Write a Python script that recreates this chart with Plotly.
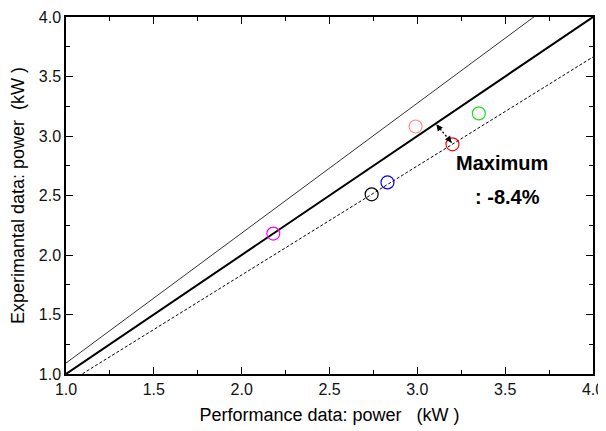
import plotly.graph_objects as go

# Data
perf_x = [2.18, 2.74, 2.83, 2.99, 3.20, 3.35]
exp_y = [2.18, 2.51, 2.61, 3.08, 2.93, 3.19]
point_colors = ["#ff00ff", "#000000", "#0000ff", "#ff8c80", "#ff0000", "#22e022"]

line_x = [0.9, 4.1]
upper_ratio = 1.092
lower_ratio = 0.916

x_ticks = [1.0, 1.5, 2.0, 2.5, 3.0, 3.5, 4.0]
y_ticks = [1.0, 1.5, 2.0, 2.5, 3.0, 3.5, 4.0]

# arrow (max deviation) endpoints: from red point to ideal line
arrow_from = (3.195, 2.944)
arrow_to = (3.108, 3.098)

FONT = "Arial, Liberation Sans, sans-serif"

fig = go.Figure()

fig.add_trace(go.Scatter(x=line_x, y=[v * upper_ratio for v in line_x], mode="lines",
                         line=dict(color="#333333", width=1), showlegend=False, hoverinfo="skip"))
fig.add_trace(go.Scatter(x=line_x, y=line_x, mode="lines",
                         line=dict(color="black", width=2), showlegend=False, hoverinfo="skip"))
fig.add_trace(go.Scatter(x=line_x, y=[v * lower_ratio for v in line_x], mode="lines",
                         line=dict(color="black", width=1, dash="3px,2px"), showlegend=False, hoverinfo="skip"))

fig.add_trace(go.Scatter(x=[arrow_from[0], arrow_to[0]], y=[arrow_from[1], arrow_to[1]], mode="lines",
                         line=dict(color="black", width=1.3, dash="2px,2px"), showlegend=False, hoverinfo="skip"))

fig.add_trace(go.Scatter(x=perf_x, y=exp_y, mode="markers",
                         marker=dict(symbol="circle-open", size=13, color=point_colors,
                                     line=dict(width=1.2, color=point_colors)),
                         showlegend=False))

# small arrowheads at both ends of the dotted line
fig.add_annotation(x=arrow_to[0], y=arrow_to[1], ax=4, ay=5, xref="x", yref="y",
                   text="", showarrow=True, arrowhead=2, arrowsize=1, arrowwidth=1.3, arrowcolor="black")
fig.add_annotation(x=arrow_from[0], y=arrow_from[1], ax=-4, ay=-5, xref="x", yref="y",
                   text="", showarrow=True, arrowhead=2, arrowsize=1, arrowwidth=1.3, arrowcolor="black")

fig.add_annotation(x=3.48, y=2.773, xref="x", yref="y", text="<b>Maximum</b>", showarrow=False,
                   font=dict(family=FONT, size=20, color="black"), xanchor="center", yanchor="middle")
fig.add_annotation(x=3.516, y=2.49, xref="x", yref="y", text="<b>: -8.4%</b>", showarrow=False,
                   font=dict(family=FONT, size=20, color="black"), xanchor="center", yanchor="middle")

axis_common = dict(
    showgrid=False, zeroline=False, showline=True, linecolor="black", linewidth=1.5, mirror="allticks",
    ticks="inside", ticklen=7, tickwidth=1.2, tickcolor="black", automargin=False,
    tickfont=dict(family=FONT, size=16, color="#111111"),
    minor=dict(ticks="inside", ticklen=4, tickwidth=1, tickcolor="black", dtick=0.25),
)

fig.update_xaxes(range=[1.0, 4.0], tickvals=x_ticks, ticktext=[f"{v:.1f}" for v in x_ticks],
                 title=dict(text="Performance data: power\u00a0\u00a0\u00a0(kW )",
                            font=dict(family=FONT, size=18, color="black"), standoff=11),
                 **axis_common)
fig.update_yaxes(range=[1.0, 4.0], tickvals=y_ticks, ticktext=[f"{v:.1f}" for v in y_ticks],
                 title=dict(text="Experimantal data: power\u00a0\u00a0(kW )",
                            font=dict(family=FONT, size=18, color="black"), standoff=10),
                 **axis_common)

# the page body adds an 8px margin, so the figure is made 8px smaller and shifted
fig.update_layout(width=598, height=423, margin=dict(l=58, r=13, t=9, b=57),
                  plot_bgcolor="white", paper_bgcolor="white")

fig.write_html("out.html")
